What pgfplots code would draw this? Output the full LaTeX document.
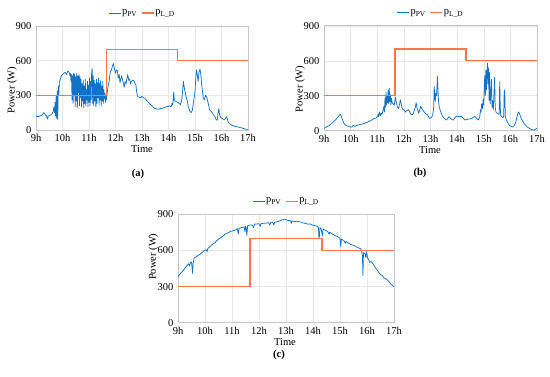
\documentclass[border=0pt]{standalone}
\usepackage{pgfplots}
\pgfplotsset{compat=1.18}
\usepackage{fontspec}
\setmainfont{Liberation Serif}
\definecolor{pvblue}{RGB}{20,114,196}
\definecolor{ldorange}{RGB}{250,120,70}
\newcommand{\fs}{\fontsize{10.5}{12}\selectfont}
\pgfplotsset{
  panel/.style={
    scale only axis,
    xmin=9, xmax=17, ymin=0, ymax=900,
    xtick={9,10,11,12,13,14,15,16,17},
    xticklabels={9h,10h,11h,12h,13h,14h,15h,16h,17h},
    ytick={0,300,600,900},
    grid=major,
    major grid style={gray!18, line width=0.4pt},
    axis line style={gray!45, line width=0.5pt},
    tick style={draw=none},
    tick label style={font=\fs},
    xticklabel style={inner sep=0pt, anchor=north, yshift=-4pt},
    yticklabel style={xshift=-1pt},
    /pgf/number format/assume math mode=true,
    legend columns=2,
    legend style={at={(0.5,1)}, anchor=center, yshift=13pt, draw=none, fill=none,
      font=\fs, inner sep=0pt, nodes={inner sep=1pt},
      /tikz/every even column/.append style={column sep=3pt}},
    legend image code/.code={\draw[#1] (0pt,0pt) -- (12pt,0pt);},
  },
  pv/.style={pvblue, line width=0.75pt, line join=round},
  ld/.style={ldorange, line width=1.2pt},
}
\begin{document}
\fs
\begin{tikzpicture}[x=1pt,y=1pt]
\path[use as bounding box] (0,0) rectangle (550,377);

% ---------------- (a) ----------------
\begin{axis}[panel, at={(36pt,247pt)}, anchor=south west, width=212pt, height=104pt]
\addplot[pv] coordinates {
(9.00,120)(9.05,118)(9.10,115)(9.15,122)(9.20,125)(9.25,135)(9.30,150)(9.33,140)(9.36,130)(9.40,120)
(9.43,95)(9.46,120)(9.50,125)(9.55,130)(9.60,140)(9.65,160)(9.68,200)(9.70,150)(9.72,240)(9.74,120)
(9.76,290)(9.78,100)(9.80,340)(9.82,90)(9.84,380)(9.86,300)(9.88,410)(9.92,440)(9.96,470)(10.00,480)
(10.05,490)(10.10,500)(10.15,480)(10.20,510)(10.25,500)(10.28,470)(10.30,490)
(10.32,420)(10.34,480)(10.36,260)(10.38,470)(10.40,230)(10.42,490)(10.44,300)(10.46,480)(10.48,200)
(10.50,460)(10.52,250)(10.54,490)(10.56,190)(10.58,470)(10.60,320)(10.62,480)(10.64,210)(10.66,460)
(10.68,280)(10.70,440)(10.72,200)(10.74,400)(10.76,250)(10.78,430)(10.80,190)(10.82,380)(10.84,230)
(10.86,440)(10.88,210)(10.90,350)(10.92,260)(10.94,420)(10.96,200)(10.98,390)(11.00,240)(11.02,450)
(11.04,210)(11.06,420)(11.08,260)(11.10,500)(11.12,530)(11.14,230)(11.16,470)(11.18,210)(11.20,430)
(11.22,250)(11.24,400)(11.26,200)(11.28,440)(11.30,230)(11.32,410)(11.34,280)(11.36,450)(11.38,220)
(11.40,400)(11.42,260)(11.44,430)(11.46,210)(11.48,380)(11.50,250)(11.52,420)(11.54,230)(11.56,350)
(11.58,270)(11.60,320)(11.62,240)(11.64,290)(11.66,260)(11.68,310)(11.72,380)(11.76,420)(11.80,500)
(11.85,520)(11.88,550)(11.92,575)(11.96,530)(12.00,490)(12.04,520)(12.07,515)(12.10,450)(12.14,480)
(12.17,410)(12.20,440)(12.23,470)(12.26,440)(12.30,400)(12.33,370)(12.36,420)(12.40,400)(12.43,440)
(12.46,480)(12.50,430)(12.53,440)(12.57,400)(12.60,420)(12.65,430)(12.70,425)(12.74,400)(12.77,390)
(12.80,330)(12.83,290)(12.88,285)(12.95,280)(13.00,290)(13.05,280)(13.10,275)(13.20,250)(13.30,225)
(13.40,205)(13.45,190)(13.50,185)(13.60,180)(13.70,185)(13.80,190)(13.90,200)(14.00,205)(14.05,210)
(14.10,200)(14.13,230)(14.16,215)(14.20,330)(14.22,250)(14.26,250)(14.30,245)(14.35,240)(14.40,230)
(14.45,220)(14.50,260)(14.53,330)(14.56,420)(14.60,360)(14.65,300)(14.70,260)(14.75,200)(14.80,165)
(14.85,150)(14.90,170)(14.95,250)(15.00,330)(15.03,450)(15.06,520)(15.09,470)(15.12,420)(15.15,500)
(15.19,525)(15.22,480)(15.25,400)(15.28,340)(15.31,280)(15.35,260)(15.40,300)(15.45,280)(15.50,230)
(15.55,175)(15.60,165)(15.65,150)(15.70,130)(15.75,115)(15.80,90)(15.84,85)(15.87,150)(15.90,185)
(15.93,130)(15.97,110)(16.00,105)(16.05,95)(16.10,90)(16.15,100)(16.20,115)(16.25,70)(16.30,55)
(16.40,40)(16.50,32)(16.60,27)(16.70,22)(16.80,15)(16.90,8)(17.00,5)
};
\addlegendentry{p\textsubscript{PV}}
\addplot[ld] coordinates {(9,300)(11.67,300)(11.67,700)(14.33,700)(14.33,600)(17,600)};
\addlegendentry{p\textsubscript{L\_D}}
\end{axis}

% ---------------- (b) ----------------
\begin{axis}[panel, at={(324pt,246.3pt)}, anchor=south west, width=213pt, height=105pt]
\addplot[pv] coordinates {
(9.00,20)(9.05,25)(9.10,35)(9.18,42)(9.25,55)(9.30,65)(9.35,75)(9.43,92)(9.50,110)(9.55,125)
(9.60,140)(9.63,135)(9.67,110)(9.72,80)(9.76,60)(9.80,50)(9.85,42)(9.90,38)(9.95,40)(10.00,30)
(10.05,32)(10.10,45)(10.15,38)(10.20,42)(10.30,50)(10.40,55)(10.50,62)(10.55,65)(10.60,70)(10.70,80)
(10.80,92)(10.85,100)(10.90,108)(10.93,106)(10.97,110)(11.00,120)(11.03,140)(11.05,120)(11.08,160)
(11.12,130)(11.15,150)(11.18,140)(11.22,180)(11.25,210)(11.27,160)(11.29,280)(11.31,200)(11.33,330)
(11.35,220)(11.37,300)(11.39,240)(11.41,350)(11.43,230)(11.45,365)(11.47,250)(11.49,310)(11.51,220)
(11.53,280)(11.56,240)(11.60,230)(11.64,220)(11.68,290)(11.72,240)(11.76,200)(11.80,190)(11.84,230)
(11.87,265)(11.90,230)(11.93,195)(11.97,180)(12.02,175)(12.06,160)(12.10,170)(12.15,175)(12.18,180)
(12.22,160)(12.27,140)(12.31,135)(12.36,150)(12.40,180)(12.43,200)(12.46,240)(12.49,200)(12.53,170)
(12.56,150)(12.60,180)(12.63,210)(12.66,195)(12.70,180)(12.75,165)(12.80,150)(12.85,140)(12.90,135)
(12.96,105)(13.02,110)(13.08,130)(13.12,200)(13.14,380)(13.16,300)(13.18,250)(13.20,320)(13.23,300)
(13.26,465)(13.28,350)(13.30,260)(13.33,200)(13.36,180)(13.40,150)(13.45,125)(13.50,110)(13.55,100)
(13.60,92)(13.65,105)(13.70,120)(13.75,105)(13.80,95)(13.85,92)(13.90,105)(13.95,120)(14.00,125)
(14.05,122)(14.10,120)(14.16,122)(14.22,110)(14.29,92)(14.35,95)(14.42,100)(14.48,100)(14.55,105)
(14.60,115)(14.67,122)(14.72,110)(14.80,92)(14.85,120)(14.88,180)(14.90,160)(14.92,230)(14.95,190)
(14.98,270)(15.00,220)(15.02,380)(15.04,470)(15.06,300)(15.08,520)(15.10,350)(15.12,480)(15.14,578)
(15.16,400)(15.18,540)(15.20,260)(15.22,500)(15.24,230)(15.26,300)(15.29,440)(15.31,200)(15.33,260)
(15.36,180)(15.38,300)(15.41,460)(15.43,200)(15.46,160)(15.50,150)(15.54,145)(15.58,140)(15.60,420)
(15.62,200)(15.64,130)(15.68,120)(15.72,110)(15.75,125)(15.77,350)(15.79,340)(15.81,120)(15.85,90)
(15.90,70)(15.95,50)(16.00,40)(16.05,35)(16.10,32)(16.15,45)(16.20,70)(16.23,100)(16.27,140)
(16.30,160)(16.34,150)(16.38,120)(16.42,100)(16.47,80)(16.52,60)(16.58,45)(16.65,30)(16.72,20)
(16.80,10)(16.88,5)(16.94,12)(17.00,20)
};
\addlegendentry{p\textsubscript{PV}}
\addplot[ld] coordinates {(9,300)(11.67,300)(11.67,700)(14.33,700)(14.33,600)(17,600)};
\addlegendentry{p\textsubscript{L\_D}}
\end{axis}

% ---------------- (c) ----------------
\begin{axis}[panel, at={(178pt,54.3pt)}, anchor=south west, width=216pt, height=108.4pt]
\addplot[pv] coordinates {
(9.00,385)(9.08,405)(9.17,427)(9.25,450)(9.30,465)(9.36,481)(9.40,490)(9.43,470)(9.46,500)(9.50,505)
(9.54,410)(9.56,495)(9.60,537)(9.65,545)(9.70,550)(9.75,560)(9.80,565)(9.85,575)(9.90,585)(9.95,595)
(10.00,600)(10.04,606)(10.08,590)(10.10,615)(10.16,626)(10.22,640)(10.30,655)(10.35,660)(10.41,675)
(10.50,695)(10.58,705)(10.65,717)(10.75,735)(10.84,745)(10.95,758)(11.05,765)(11.15,772)(11.20,780)
(11.23,735)(11.26,782)(11.35,790)(11.45,795)(11.48,755)(11.50,798)(11.52,800)(11.55,725)(11.58,805)
(11.65,810)(11.75,812)(11.80,790)(11.83,818)(11.89,819)(12.00,822)(12.05,800)(12.08,823)(12.15,825)
(12.26,827)(12.35,830)(12.40,810)(12.43,832)(12.50,835)(12.55,812)(12.58,836)(12.63,836)(12.70,840)
(12.80,848)(12.88,855)(12.95,860)(13.00,855)(13.05,850)(13.10,848)(13.17,847)(13.20,825)(13.23,845)
(13.30,840)(13.42,842)(13.50,838)(13.55,835)(13.60,830)(13.67,827)(13.75,822)(13.85,818)(13.91,819)
(14.00,810)(14.08,805)(14.16,800)(14.20,790)(14.22,703)(14.24,720)(14.26,790)(14.30,780)(14.35,720)
(14.37,778)(14.41,772)(14.48,765)(14.55,755)(14.60,735)(14.62,752)(14.66,745)(14.75,732)(14.83,722)
(14.90,717)(15.00,700)(15.03,630)(15.05,695)(15.09,689)(15.15,680)(15.20,660)(15.22,675)(15.27,667)
(15.35,655)(15.45,645)(15.52,642)(15.60,630)(15.70,620)(15.77,614)(15.80,595)(15.83,560)(15.85,390)
(15.87,580)(15.90,580)(15.93,570)(15.96,540)(15.98,590)(16.02,540)(16.06,525)(16.10,500)(16.14,510)
(16.20,495)(16.27,470)(16.32,454)(16.40,430)(16.46,410)(16.51,398)(16.57,390)(16.63,371)(16.70,365)
(16.75,355)(16.81,343)(16.87,325)(16.93,310)(17.00,300)
};
\addlegendentry{p\textsubscript{PV}}
\addplot[ld] coordinates {(9,300)(11.67,300)(11.67,700)(14.33,700)(14.33,600)(17,600)};
\addlegendentry{p\textsubscript{L\_D}}
\end{axis}

% labels
\node[rotate=90] at (12,287) {Power (W)};
\node[rotate=90] at (300,288) {Power (W)};
\node[rotate=90] at (153.3,120.3) {Power (W)};
\node at (142,228) {Time};
\node at (430,227) {Time};
\node at (285,35.3) {Time};
\node at (138,203) {\textbf{(a)}};
\node at (420,204) {\textbf{(b)}};
\node at (279,22) {\textbf{(c)}};
\end{tikzpicture}
\end{document}
